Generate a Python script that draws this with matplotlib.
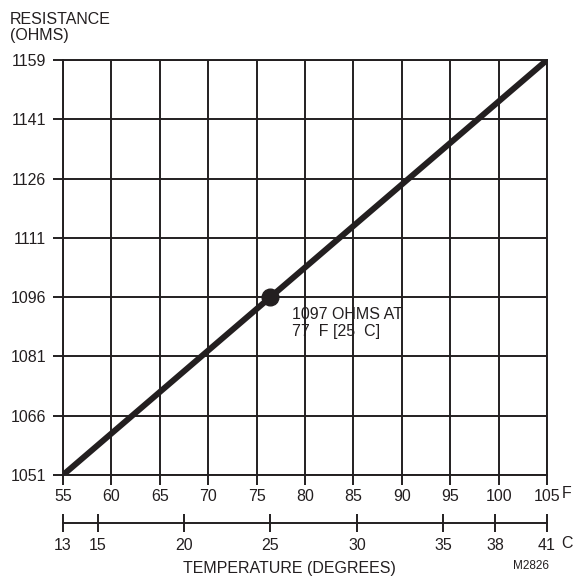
import numpy as np
import matplotlib.pyplot as plt

plt.rcParams['font.family'] = ['Liberation Sans', 'DejaVu Sans']

# data
temp_f = [55, 105]
resist = [1051, 1159]
y_labels = [1051, 1066, 1081, 1096, 1111, 1126, 1141, 1159]
f_ticks = [55, 60, 65, 70, 75, 80, 85, 90, 95, 100, 105]
c_ticks = [13, 15, 20, 25, 30, 35, 38, 41]
point_c = 25
point_r = 1096

ink = '#231f20'
fs = 11.5

def c_to_f(c):
    # the celsius scale spans the same width as 55..105 F
    return 55 + (np.asarray(c, dtype=float) - 13) * 50.0 / 28.0

def r_to_pos(r):
    return np.interp(r, y_labels, np.arange(len(y_labels)))

fig = plt.figure(figsize=(5.74, 5.76), dpi=100)
L, W = 63/574, (547-63)/574
ax = fig.add_axes([L, 1-475/576, W, (475-60)/576])

ax.plot(temp_f, r_to_pos(resist), color=ink, lw=4.3, solid_capstyle='butt', zorder=3)
ax.plot(c_to_f(point_c), r_to_pos(point_r), 'o', color=ink, ms=12, zorder=4)
ax.text(c_to_f(point_c) + 2.2, r_to_pos(point_r) - 0.17, '1097 OHMS AT\n77  F [25  C]',
        fontsize=fs, color=ink, va='top', ha='left', linespacing=1.12)

ax.set_xlim(55, 105)
ax.set_ylim(0, len(y_labels) - 1)
ax.set_xticks(f_ticks)
ax.set_xticklabels([str(v) for v in f_ticks])
ax.set_yticks(np.arange(len(y_labels)))
ax.set_yticklabels([str(v) for v in y_labels])
ax.grid(True, color=ink, lw=1.4)
for s in ax.spines.values():
    s.set_color(ink)
    s.set_linewidth(1.4)
ax.tick_params(axis='both', colors=ink, labelcolor=ink, labelsize=fs, width=1.4, length=7)
ax.tick_params(axis='y', pad=5)
ax.tick_params(axis='x', pad=3)

# celsius scale
ax2 = fig.add_axes([L, 1-523/576, W, 0.0001])
ax2.set_xlim(13, 41)
ax2.set_ylim(0, 1)
ax2.set_yticks([])
ax2.set_xticks(c_ticks)
ax2.set_xticklabels([str(v) for v in c_ticks])
for k in ['left', 'right', 'top']:
    ax2.spines[k].set_visible(False)
ax2.spines['bottom'].set_color(ink)
ax2.spines['bottom'].set_linewidth(1.4)
ax2.patch.set_visible(False)
ax2.tick_params(axis='x', direction='inout', length=13, width=1.4, colors=ink,
                labelcolor=ink, labelsize=fs, pad=4)

fig.text(10/574, 1-12/576, 'RESISTANCE\n(OHMS)', fontsize=fs, color=ink,
         ha='left', va='top', linespacing=1.12)
fig.text(567/574, 1-494/576, 'F', fontsize=fs, color=ink, ha='center', va='center')
fig.text(567/574, 1-544/576, 'C', fontsize=fs, color=ink, ha='center', va='center')
fig.text(289/574, 1-568/576, 'TEMPERATURE (DEGREES)', fontsize=fs, color=ink,
         ha='center', va='center')
fig.text(531/574, 1-566/576, 'M2826', fontsize=8.5, color=ink, ha='center', va='center')

fig.savefig('out.png', dpi=100)
